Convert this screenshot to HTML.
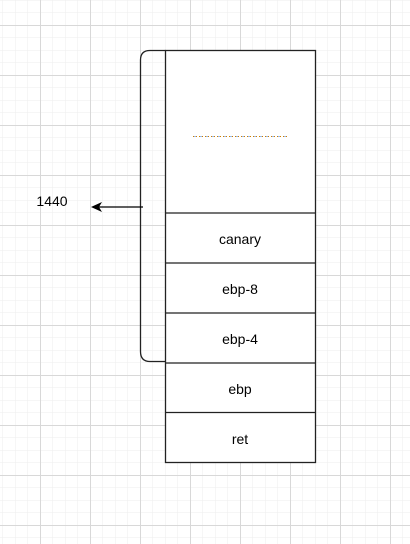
<!DOCTYPE html>
<html><head><meta charset="utf-8"><style>
html,body{margin:0;padding:0;background:#fff;}
svg{display:block;}
text{font-family:"Liberation Sans",Arial,sans-serif;font-size:14px;fill:#000;}
</style></head><body>
<svg width="410" height="544" viewBox="0 0 410 544" xmlns="http://www.w3.org/2000/svg">
<defs>
<pattern id="minor" x="2.5" y="0" width="12.5" height="12.5" patternUnits="userSpaceOnUse">
<path d="M0 0H12.5M0 0V12.5" stroke="#eeeeee" stroke-width="1" fill="none"/>
</pattern>
<pattern id="major" x="40" y="25" width="50" height="50" patternUnits="userSpaceOnUse">
<path d="M0 0.5H50M0.5 0V50" stroke="#d8d8d8" stroke-width="1" fill="none"/>
</pattern>
</defs>
<rect width="410" height="544" fill="#fff"/>
<rect width="410" height="544" fill="url(#minor)"/>
<rect width="410" height="544" fill="url(#major)"/>
<path d="M165.5 50.5 H150 Q140.5 50.5 140.5 60 V351.5 Q140.5 361.5 150 361.5 H165.5" fill="none" stroke="#222" stroke-width="1.3"/>
<rect x="165.5" y="50.5" width="150" height="412" fill="#fff" stroke="#222" stroke-width="1.3"/>
<g stroke="#222" stroke-width="1.3">
<line x1="165" y1="213" x2="316" y2="213"/>
<line x1="165" y1="263" x2="316" y2="263"/>
<line x1="165" y1="313" x2="316" y2="313"/>
<line x1="165" y1="363" x2="316" y2="363"/>
<line x1="165" y1="412.5" x2="316" y2="412.5"/>
</g>
<line x1="193" y1="136.5" x2="287" y2="136.5" stroke="#d08000" stroke-width="1" stroke-dasharray="1,2"/>
<line x1="194.5" y1="136.5" x2="287" y2="136.5" stroke="#3070d0" stroke-width="1" stroke-dasharray="1,5"/>
<line x1="143" y1="207" x2="98" y2="207" stroke="#000" stroke-width="1.2"/>
<path d="M91 207 L102 202 L99 207 L102 212 Z" fill="#000"/>
<text x="52" y="206" text-anchor="middle">1440</text>
<g text-anchor="middle">
<text x="240" y="244">canary</text>
<text x="240" y="294">ebp-8</text>
<text x="240" y="344">ebp-4</text>
<text x="240" y="394">ebp</text>
<text x="240" y="444">ret</text>
</g>
</svg>
</body></html>
